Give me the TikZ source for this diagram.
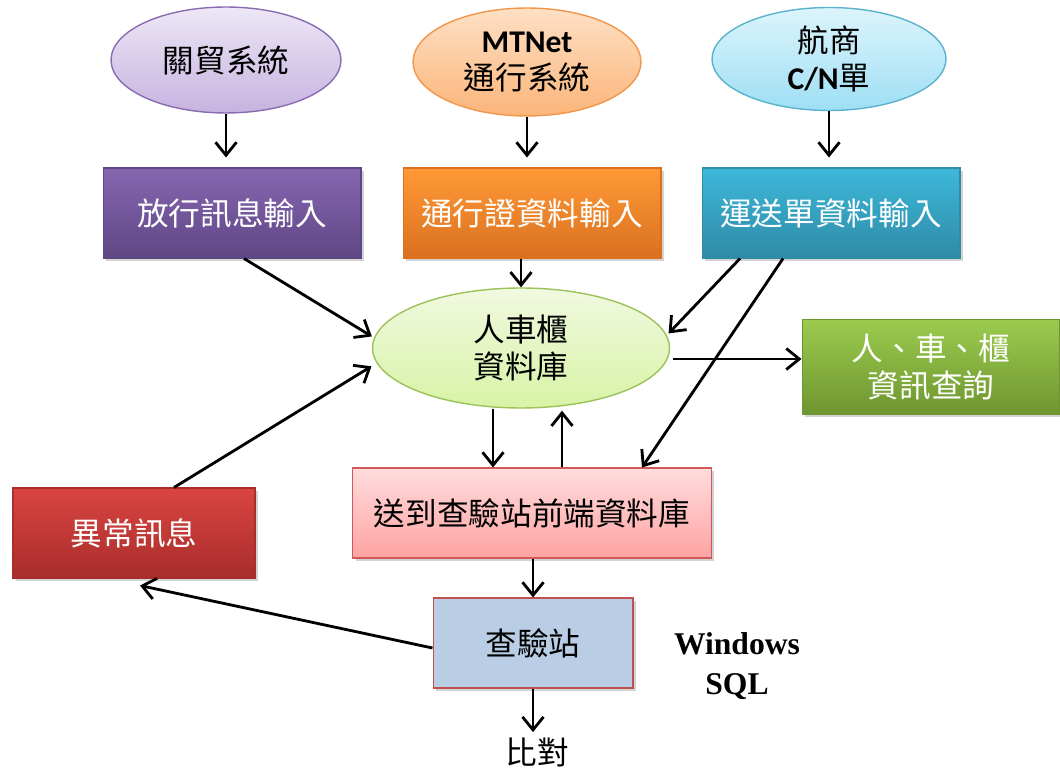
\documentclass[tikz,border=0pt]{standalone}
\usepackage{fontspec}
\newfontfamily\cjk{Noto Sans CJK TC}
\newfontfamily\carl{Carlito}
\newfontfamily\lserif{Liberation Serif}
\usetikzlibrary{arrows.meta,shapes.geometric,shadows}

% palette
\definecolor{purpleA}{HTML}{EDE7F6}
\definecolor{purpleB}{HTML}{C6B3E0}
\definecolor{purpleE}{HTML}{8A6DB0}
\definecolor{purpleT}{HTML}{8766B0}
\definecolor{purpleD}{HTML}{5E4785}
\definecolor{orangeA}{HTML}{FEE0C4}
\definecolor{orangeB}{HTML}{FBB57A}
\definecolor{orangeE}{HTML}{F2964C}
\definecolor{orangeT}{HTML}{FF9A36}
\definecolor{orangeD}{HTML}{DA7020}
\definecolor{cyanA}{HTML}{DDF4FC}
\definecolor{cyanB}{HTML}{9EDFF4}
\definecolor{cyanE}{HTML}{5AB3CD}
\definecolor{cyanT}{HTML}{3DB8DA}
\definecolor{cyanD}{HTML}{2F8BA6}
\definecolor{limeA}{HTML}{F1F9E0}
\definecolor{limeB}{HTML}{D8F3A6}
\definecolor{limeE}{HTML}{9CC25A}
\definecolor{greenT}{HTML}{9BCB4E}
\definecolor{greenD}{HTML}{6E9530}
\definecolor{pinkT}{HTML}{FFDCDC}
\definecolor{pinkB}{HTML}{FFA3A3}
\definecolor{pinkE}{HTML}{D0575A}
\definecolor{redT}{HTML}{DA4541}
\definecolor{redD}{HTML}{A82D2B}
\definecolor{steel}{HTML}{B9CDE5}
\definecolor{steelE}{HTML}{C0504D}

\begin{document}
\begin{tikzpicture}[x=0.02cm,y=-0.02cm,
  txt/.style={font=\cjk\fontsize{18}{21}\selectfont, align=center},
  ell/.style={txt, ellipse, draw, line width=0.8pt, inner sep=0pt},
  box/.style={txt, rectangle, inner sep=0pt, line width=0.6pt,
    minimum width=5.16cm, minimum height=1.8cm,
    drop shadow={opacity=0.35, shadow xshift=0.06cm, shadow yshift=-0.06cm}},
  darkbox/.style={box, text=white},
  arr/.style={line width=1.6pt,
    -{Straight Barb[length=2.6mm,width=4.2mm]}},
]
\useasboundingbox (0,0) rectangle (1060,773);

% sources
\node[ell, draw=purpleE, top color=purpleA, bottom color=purpleB,
  minimum width=4.6cm, minimum height=2.12cm] (e1) at (226,60) {關貿系統};
\node[ell, draw=orangeE, top color=orangeA, bottom color=orangeB,
  minimum width=4.56cm, minimum height=2.16cm] (e2) at (527,62)
  {{\carl\bfseries MTNet}\\通行系統};
\node[ell, draw=cyanE, top color=cyanA, bottom color=cyanB,
  minimum width=4.68cm, minimum height=2.06cm] (e3) at (829,59)
  {航商\\{\carl\bfseries C/N}單};

% input steps
\node[darkbox, draw=purpleD, top color=purpleT, bottom color=purpleD] (b1) at (232,213) {放行訊息輸入};
\node[darkbox, draw=orangeD, top color=orangeT, bottom color=orangeD] (b2) at (532,213) {通行證資料輸入};
\node[darkbox, draw=cyanD, top color=cyanT, bottom color=cyanD] (b3) at (831,213) {運送單資料輸入};

% central database
\node[ell, draw=limeE, top color=limeA, bottom color=limeB,
  minimum width=5.94cm, minimum height=2.4cm] (db) at (521,348) {人車櫃\\資料庫};

% query
\node[darkbox, draw=greenD, top color=greenT, bottom color=greenD,
  minimum height=1.9cm] (q) at (931,367) {人、車、櫃\\資訊查詢};

% front-end database, alerts and station
\node[box, draw=pinkE, top color=pinkT, bottom color=pinkB,
  minimum width=7.18cm] (fe) at (532,513) {送到查驗站前端資料庫};
\node[darkbox, draw=redD, top color=redT, bottom color=redD,
  minimum width=4.84cm] (err) at (134,533) {異常訊息};
\node[box, draw=steelE, fill=steel, minimum width=4cm] (st) at (533,643) {查驗站};

\node[font=\lserif\bfseries\fontsize{18}{23}\selectfont, align=center] (ws) at (737,666) {Windows\\SQL};
\node[txt, inner sep=0pt] (cmp) at (537,752) {比對};

% connectors
\draw[arr, shorten >=2mm] (e1.south) -- (e1.south |- b1.north);
\draw[arr, shorten >=2mm] (e2.south) -- (e2.south |- b2.north);
\draw[arr, shorten >=2mm] (e3.south) -- (e3.south |- b3.north);

\draw[arr, shorten >=0.5mm] ([xshift=0.24cm]b1.south) -- (db.176);
\draw[arr] (db.north |- b2.south) -- (db.north);
\draw[arr, shorten >=0.5mm] ([xshift=-1.82cm]b3.south) -- (db.5);
\draw[arr] ([xshift=-0.96cm]b3.south) -- ([xshift=2.2cm]fe.north);

\coordinate (o8) at ([yshift=-0.22cm,xshift=0.06cm]db.east);
\draw[arr] (o8) -- (o8 -| q.west);

\draw[arr] ([xshift=-0.56cm]db.south) -- ([xshift=-0.56cm]db.south |- fe.north);
\coordinate (u10) at ([xshift=0.82cm,yshift=-0.04cm]db.south);
\draw[arr] (u10 |- fe.north) -- (u10);

\draw[arr, shorten >=1.2mm] ([xshift=0.8cm]err.north) -- (db.186);
\draw[arr] (fe.south -| st.north) -- (st.north);
\draw[arr] ([yshift=-0.1cm]st.west) -- ([shift={(0.12cm,-0.14cm)}]err.south);
\draw[arr, shorten >=1mm] (st.south) -- (st.south |- cmp.north);
\end{tikzpicture}
\end{document}
